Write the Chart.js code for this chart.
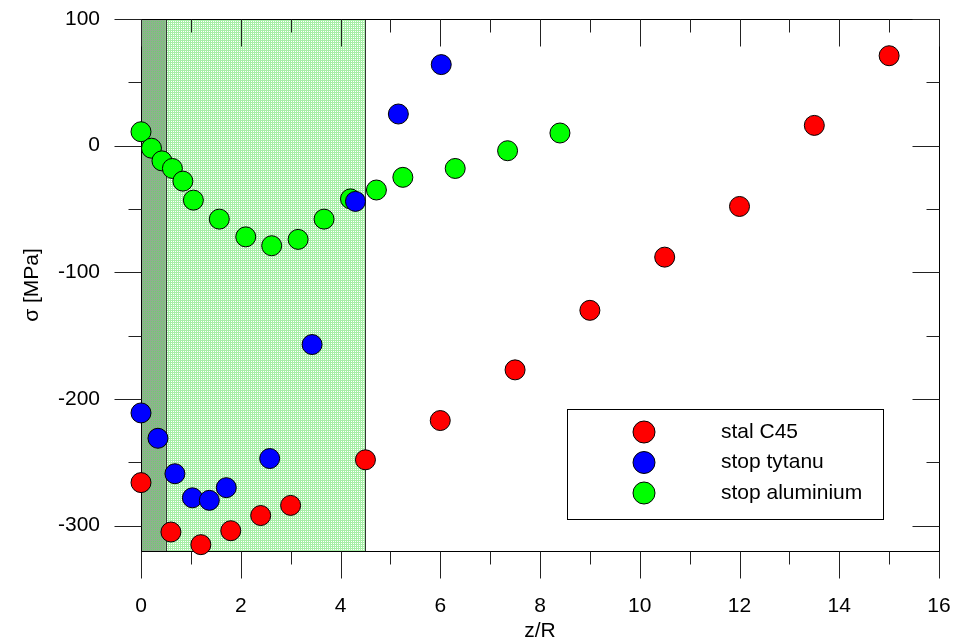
<!DOCTYPE html>
<html>
<head>
<meta charset="utf-8">
<script src="https://cdn.jsdelivr.net/npm/chart.js@4.4.0/dist/chart.umd.min.js"></script>
<style>
    html, body { margin: 0; padding: 0; background: #fff; }
</style>
</head>
<body>
<canvas id="myChart" width="955" height="641"></canvas>
<script>
    // stal C45
    var steelX = [0, 0.6, 1.2, 1.8, 2.4, 3.0, 4.5, 6, 7.5, 9, 10.5, 12, 13.5, 15];
    var steelY = [-266, -305, -315, -304, -292, -284, -248, -217, -177, -130, -88, -48, 16, 71];
    // stop tytanu
    var titanX = [0, 0.34, 0.68, 1.03, 1.37, 1.71, 2.58, 3.43, 4.3, 5.16, 6.02];
    var titanY = [-211, -231, -259, -278, -280, -270, -247, -157, -44, 25, 64];
    // stop aluminium
    var aluX = [0, 0.21, 0.42, 0.63, 0.84, 1.05, 1.57, 2.1, 2.62, 3.15, 3.67, 4.2, 4.72, 5.25, 6.3, 7.35, 8.4];
    var aluY = [11, -2, -12, -18, -28, -43, -58, -72, -79, -74, -58, -42, -35, -25, -18, -4, 10];

    var seriesNames = ['stal C45', 'stop tytanu', 'stop aluminium'];
    var seriesColors = ['#ff0000', '#0000ff', '#00ff00'];

    // shaded zones along z/R
    var darkZone = [0, 0.5];
    var lightZone = [0.5, 4.5];

    var xTicks = { min: 0, max: 16, step: 2 };
    var yTicks = { min: -320, max: 100, step: 100 };

    var FONT = 'Arial, "Liberation Sans", sans-serif';

    function toPoints(xs, ys) {
        var pts = [];
        for (let i = 0; i < xs.length; i++) {
            pts.push({ x: xs[i], y: ys[i] });
        }
        return pts;
    }

    function makePattern(ctx, bg, line) {
        var c = document.createElement('canvas');
        c.width = 2;
        c.height = 2;
        var g = c.getContext('2d');
        g.fillStyle = bg;
        g.fillRect(0, 0, 2, 2);
        g.fillStyle = line;
        g.fillRect(0, 0, 2, 1);
        g.fillRect(0, 0, 1, 2);
        return ctx.createPattern(c, 'repeat');
    }

    function line(ctx, x1, y1, x2, y2) {
        ctx.beginPath();
        ctx.moveTo(x1, y1);
        ctx.lineTo(x2, y2);
        ctx.stroke();
    }

    function noPadding(scale) {
        scale.paddingLeft = 0;
        scale.paddingRight = 0;
        scale.paddingTop = 0;
        scale.paddingBottom = 0;
    }

    // zones, frame and major/minor ticks on all four sides
    var framePlugin = {
        id: 'frame',
        beforeDatasetsDraw(chart) {
            const ctx = chart.ctx;
            const a = chart.chartArea;
            const xs = chart.scales.x;
            const ys = chart.scales.y;
            ctx.save();

            var x0 = xs.getPixelForValue(darkZone[0]);
            var x1 = xs.getPixelForValue(darkZone[1]);
            var x2 = xs.getPixelForValue(lightZone[1]);
            ctx.fillStyle = makePattern(ctx, '#6fcf6f', '#8fb08f');
            ctx.fillRect(x0, a.top, x1 - x0, a.bottom - a.top);
            ctx.fillStyle = makePattern(ctx, '#ffffff', '#a6efa6');
            ctx.fillRect(x1, a.top, x2 - x1, a.bottom - a.top);
            ctx.strokeStyle = '#333';
            ctx.lineWidth = 1;
            line(ctx, Math.round(x1) + 0.5, a.top, Math.round(x1) + 0.5, a.bottom);
            line(ctx, Math.round(x2) + 0.5, a.top, Math.round(x2) + 0.5, a.bottom);

            ctx.strokeStyle = '#000';
            ctx.strokeRect(Math.round(a.left) + 0.5, Math.round(a.top) + 0.5,
                Math.round(a.right - a.left), Math.round(a.bottom - a.top));

            ctx.strokeStyle = '#222';
            var L = Math.round(a.left) + 0.5, R = Math.round(a.right) + 0.5;
            var T = Math.round(a.top) + 0.5, B = Math.round(a.bottom) + 0.5;

            for (let v = xTicks.min; v <= xTicks.max + 1e-9; v += xTicks.step / 2) {
                var major = Math.abs(v / xTicks.step - Math.round(v / xTicks.step)) < 1e-6;
                var len = major ? 27 : 13;
                var px = Math.round(xs.getPixelForValue(v)) + 0.5;
                line(ctx, px, B, px, B + len);
                line(ctx, px, T, px, T + len);
            }
            for (let v = -300; v <= yTicks.max + 1e-9; v += yTicks.step / 2) {
                var majorY = Math.abs(v / yTicks.step - Math.round(v / yTicks.step)) < 1e-6;
                var lenY = majorY ? 27 : 13;
                var py = Math.round(ys.getPixelForValue(v)) + 0.5;
                line(ctx, L - lenY, py, L, py);
                line(ctx, R - lenY, py, R, py);
            }
            ctx.restore();
        },
        afterDraw(chart) {
            const ctx = chart.ctx;
            const a = chart.chartArea;
            ctx.save();
            var bx = a.right - 372, by = a.top + 390, bw = 316, bh = 110;
            ctx.fillStyle = '#fff';
            ctx.fillRect(bx, by, bw, bh);
            ctx.strokeStyle = '#000';
            ctx.lineWidth = 1;
            ctx.strokeRect(Math.round(bx) + 0.5, Math.round(by) + 0.5, bw, bh);
            ctx.font = '21px ' + FONT;
            ctx.textBaseline = 'middle';
            ctx.textAlign = 'left';
            chart.data.datasets.forEach(function(ds, i) {
                var cy = by + 23 + i * 30.5;
                ctx.beginPath();
                ctx.arc(bx + 77, cy, 11, 0, Math.PI * 2);
                ctx.fillStyle = ds.backgroundColor;
                ctx.fill();
                ctx.strokeStyle = '#000';
                ctx.stroke();
                ctx.fillStyle = '#000';
                ctx.fillText(ds.label, bx + 154, cy);
            });
            ctx.restore();
        }
    };

    function loadChart() {
        var datasets = [];
        var xsAll = [steelX, titanX, aluX];
        var ysAll = [steelY, titanY, aluY];
        for (let i = 0; i < 3; i++) {
            datasets.push({
                label: seriesNames[i],
                data: toPoints(xsAll[i], ysAll[i]),
                backgroundColor: seriesColors[i],
                borderColor: '#000',
                borderWidth: 1,
                pointRadius: 10,
                pointHoverRadius: 10,
                clip: false
            });
        }

        const ctx = document.getElementById('myChart').getContext('2d');
        new Chart(ctx, {
            type: 'scatter',
            data: { datasets: datasets },
            plugins: [framePlugin],
            options: {
                responsive: false,
                animation: false,
                devicePixelRatio: 1,
                layout: { padding: { top: 19, right: 16, bottom: 0, left: 0 } },
                plugins: {
                    legend: { display: false },
                    tooltip: { enabled: false }
                },
                scales: {
                    x: {
                        type: 'linear',
                        min: xTicks.min,
                        max: xTicks.max,
                        grid: { display: false, drawTicks: false },
                        border: { display: false },
                        ticks: {
                            stepSize: xTicks.step,
                            padding: 43,
                            color: '#000',
                            font: { size: 21, family: FONT }
                        },
                        title: {
                            display: true,
                            text: 'z/R',
                            color: '#000',
                            padding: { top: 0, bottom: -3 },
                            font: { size: 21, family: FONT }
                        },
                        afterFit: function(scale) {
                            scale.height = 90;
                            noPadding(scale);
                        }
                    },
                    y: {
                        type: 'linear',
                        min: yTicks.min,
                        max: yTicks.max,
                        grid: { display: false, drawTicks: false },
                        border: { display: false },
                        ticks: {
                            stepSize: yTicks.step,
                            includeBounds: false,
                            padding: 41,
                            color: '#000',
                            font: { size: 21, family: FONT }
                        },
                        title: {
                            display: true,
                            text: 'σ [MPa]',
                            color: '#000',
                            padding: { top: 20, bottom: 0 },
                            font: { size: 21, family: FONT }
                        },
                        afterFit: function(scale) {
                            scale.width = 141;
                            noPadding(scale);
                        }
                    }
                }
            }
        });
    }

    loadChart();
</script>
</body>
</html>
